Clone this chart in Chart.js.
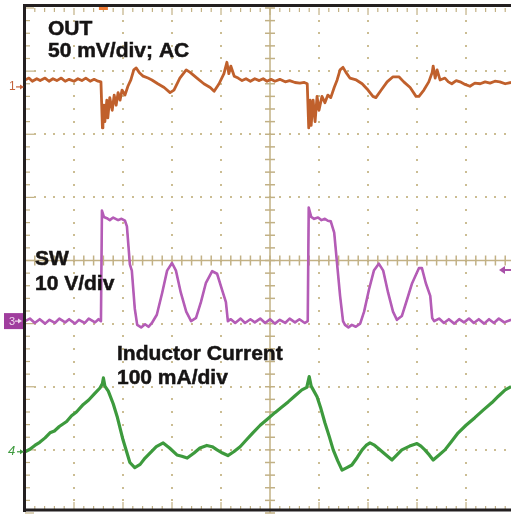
<!DOCTYPE html>
<html><head><meta charset="utf-8">
<script src="https://cdn.jsdelivr.net/npm/chart.js@4.4.0/dist/chart.umd.min.js"></script>
<style>html,body{margin:0;padding:0;background:#fff;overflow:hidden}#wrap{width:511px;height:514px;position:relative}</style>
</head><body><div id="wrap"><canvas id="c" width="511" height="514"></canvas></div>
<script>
// Screen: 10 horizontal divisions x 8 vertical divisions (right edge cut at ~9.92 div)
const X_DIVS = 10;
const Y_HALF_DIVS = 4;
const X_VIEW_MAX = 9.918;

// Channel settings (offset in divisions, scale per division)
const CH1_OFFSET = 2.75, CH1_SCALE = 50;   // OUT, mV/div, AC
const CH3_OFFSET = -0.96, CH3_SCALE = 10;  // SW, V/div
const CH4_OFFSET = -3.03, CH4_SCALE = 100; // Inductor current, mA/div
const TRIG_T = 1.6;       // trigger position (div)
const TRIG_LEVEL_V = 8.1; // trigger level on SW (V)

// [time (div), mV]
const OUT_MV = [[0.00,5.5],[0.08,7],[0.15,4.5],[0.24,6.5],[0.31,5],[0.41,7],[0.49,4.5],[0.57,6.5],[0.65,5],[0.74,7],[0.82,4.5],[0.9,6],[1.0,4.5],[1.08,6.5],[1.16,5],[1.24,7],[1.33,4.5],[1.41,6],[1.49,4.5],[1.55,4],[1.58,-32.5],[1.59,-30.5],[1.61,-14.5],[1.63,-27.5],[1.67,-10.5],[1.69,-24.5],[1.73,-8.5],[1.78,-18.5],[1.82,-6.5],[1.86,-14.5],[1.90,-4.5],[1.94,-10.5],[1.98,-2.5],[2.04,-6.5],[2.10,0.5],[2.16,5.5],[2.22,13.5],[2.27,15],[2.33,11.5],[2.41,8.5],[2.51,7],[2.59,5.5],[2.71,2.5],[2.84,-0.5],[2.96,-4.5],[3.04,-2.5],[3.16,7],[3.29,13.5],[3.37,11.5],[3.51,7],[3.65,2.5],[3.78,-0.5],[3.86,-3.5],[3.96,2.5],[4.06,10.5],[4.12,19.5],[4.16,10.5],[4.20,16.5],[4.27,8.5],[4.35,7],[4.43,5],[4.51,6.5],[4.6,4.5],[4.69,6.5],[4.78,5],[4.86,6.5],[4.94,4.5],[5.02,6],[5.1,4.5],[5.2,6],[5.31,4],[5.4,5],[5.51,3.5],[5.61,3],[5.7,3.5],[5.76,2.5],[5.79,-32.5],[5.82,-10.5],[5.84,-30.5],[5.88,-10.5],[5.92,-27.5],[5.96,-7.5],[6.00,-18.5],[6.06,-7.5],[6.12,-12.5],[6.18,-6.5],[6.24,-8.5],[6.31,-0.5],[6.37,5.5],[6.43,13.5],[6.49,15.5],[6.55,11.5],[6.63,7],[6.76,5.5],[6.88,2.5],[7.00,-2.5],[7.10,-7.5],[7.16,-8.5],[7.27,-2.5],[7.39,4],[7.51,8],[7.63,8],[7.73,4],[7.86,-0.5],[7.98,-7.5],[8.04,-7.5],[8.14,-2.5],[8.24,4],[8.31,11.5],[8.33,16.5],[8.37,7],[8.41,13.5],[8.47,5.5],[8.57,7],[8.64,4],[8.71,2.5],[8.8,5],[8.88,4],[8.98,2],[9.08,0.5],[9.18,3],[9.29,2.5],[9.39,4],[9.49,3],[9.59,4.5],[9.69,4],[9.8,2.5],[9.92,3.5]];

// [time (div), V]
const SW_V = [[0,0],[0.1,0.4],[0.2,-0.3],[0.3,0.3],[0.41,-0.4],[0.5,0.2],[0.61,-0.3],[0.7,0.4],[0.82,-0.2],[0.9,0.3],[1.02,-0.4],[1.1,0.2],[1.22,-0.3],[1.3,0.4],[1.43,-0.2],[1.5,0.3],[1.55,0],[1.57,17.5],[1.61,16.5],[1.67,16.3],[1.73,16.0],[1.8,16.4],[1.9,16.0],[1.97,16.2],[2.04,15.9],[2.08,15],[2.14,9],[2.18,8],[2.24,2],[2.29,-0.6],[2.37,-1],[2.45,-0.5],[2.52,-0.9],[2.59,-0.3],[2.69,1],[2.80,4.5],[2.90,8],[3.00,9.2],[3.08,8],[3.18,4.5],[3.29,1.5],[3.39,0],[3.49,0.5],[3.59,3],[3.69,6],[3.82,7.9],[3.92,7.5],[4.02,5],[4.10,3],[4.14,0],[4.2,0.3],[4.29,-0.3],[4.4,0.4],[4.49,-0.3],[4.6,0.3],[4.69,-0.2],[4.8,0.4],[4.9,-0.3],[5.0,0.3],[5.1,-0.4],[5.2,0.2],[5.31,-0.3],[5.4,0.4],[5.51,-0.2],[5.6,0.3],[5.71,-0.3],[5.77,0],[5.79,18],[5.84,16.5],[5.9,16.2],[5.98,16.4],[6.05,16.0],[6.12,16.2],[6.18,15.9],[6.24,15.8],[6.31,14],[6.37,9],[6.43,4],[6.49,0],[6.53,-0.6],[6.6,-1],[6.67,-0.6],[6.75,-0.9],[6.84,-0.4],[6.92,1.5],[7.02,5],[7.12,8],[7.22,9.1],[7.31,8],[7.41,4.5],[7.51,1.5],[7.59,0.2],[7.69,0.8],[7.80,3.5],[7.90,6],[8.04,8.4],[8.10,8.4],[8.18,6],[8.27,4],[8.31,0.5],[8.35,0],[8.45,0.4],[8.55,-0.3],[8.65,0.3],[8.76,-0.4],[8.86,0.3],[8.96,-0.2],[9.06,0.4],[9.16,-0.3],[9.26,0.3],[9.37,-0.4],[9.47,0.3],[9.57,-0.3],[9.67,0.4],[9.78,-0.2],[9.92,0.2]];

// [time (div), mA]
const IL_MA = [[0,0],[0.1,4],[0.2,10],[0.3,15],[0.41,22],[0.51,30],[0.6,33],[0.7,40],[0.85,48],[0.95,57],[1.05,63],[1.19,75],[1.3,82],[1.42,92],[1.53,101],[1.58,108],[1.6,117],[1.63,104],[1.7,96],[1.8,76],[1.88,56],[2.0,19],[2.14,-17],[2.24,-25],[2.35,-20],[2.45,-10],[2.55,-2],[2.68,8],[2.82,14],[2.95,6],[3.10,-5],[3.2,-7],[3.31,-10],[3.45,-2],[3.57,6],[3.71,10],[3.82,8],[3.92,3],[4.03,-2],[4.14,-6],[4.26,0],[4.39,8],[4.52,19],[4.65,30],[4.8,42],[4.95,52],[5.10,62],[5.23,70],[5.37,79],[5.5,88],[5.65,98],[5.75,102],[5.80,119],[5.84,104],[5.96,87],[6.04,68],[6.12,46],[6.21,24],[6.29,3],[6.38,-14],[6.47,-29],[6.57,-25],[6.67,-21],[6.78,-9],[6.88,3],[6.96,10],[7.04,14],[7.12,11],[7.20,6],[7.35,-4],[7.49,-13],[7.59,-5],[7.69,3],[7.85,9],[8.00,13],[8.08,9],[8.16,3],[8.25,-5],[8.33,-13],[8.45,-5],[8.57,3],[8.7,16],[8.84,30],[9.0,42],[9.18,54],[9.35,66],[9.53,78],[9.66,88],[9.80,98],[9.92,103]];

const LABEL_OUT = ['OUT', '50 mV/div; AC'];
const LABEL_SW = ['SW', '10 V/div'];
const LABEL_IL = ['Inductor Current', '100 mA/div'];

const GRID_COLOR = '#cbbd93';
const AXIS_COLOR = '#c2b185';
const FRAME_COLOR = '#231f20';
const TEXT_COLOR = '#161414';

const toPts = (arr, off, sc) => arr.map(([t, v]) => ({x: t, y: off + v / sc}));

function line(ctx, x1, y1, x2, y2) { ctx.beginPath(); ctx.moveTo(x1, y1); ctx.lineTo(x2, y2); ctx.stroke(); }

const scopePlugin = {
  id: 'scope',
  beforeDatasetsDraw(chart) {
    const {ctx, chartArea: a, scales: {x, y}} = chart;
    ctx.save();
    ctx.fillStyle = GRID_COLOR;
    for (let i = 1; i < X_DIVS; i++) {
      if (i === X_DIVS / 2) continue;
      const px = Math.round(x.getPixelForValue(i));
      for (let j = -Y_HALF_DIVS * 5 + 1; j < Y_HALF_DIVS * 5; j++) {
        const py = Math.round(y.getPixelForValue(j / 5));
        ctx.fillRect(px - 1, py - 1, 2, 2);
      }
    }
    for (let k = -Y_HALF_DIVS + 1; k < Y_HALF_DIVS; k++) {
      if (k === 0) continue;
      const py = Math.round(y.getPixelForValue(k));
      for (let j = 1; j <= X_DIVS * 5; j++) {
        const px = Math.round(x.getPixelForValue(j / 5));
        ctx.fillRect(px - 1, py - 1, 2, 2);
      }
    }
    // centre axes with ticks
    ctx.strokeStyle = AXIS_COLOR;
    ctx.lineWidth = 1.5;
    const cx = x.getPixelForValue(X_DIVS / 2), cy = y.getPixelForValue(0);
    line(ctx, cx, a.top, cx, a.bottom);
    line(ctx, a.left, cy, a.right, cy);
    for (let j = -Y_HALF_DIVS * 5; j <= Y_HALF_DIVS * 5; j++) {
      const py = y.getPixelForValue(j / 5);
      line(ctx, cx - 5, py, cx + 5, py);
    }
    for (let j = 0; j <= X_DIVS * 5; j++) {
      const px = x.getPixelForValue(j / 5);
      line(ctx, px, cy - 5, px, cy + 5);
    }
    // frame ticks
    ctx.lineWidth = 1.2;
    for (let j = 0; j <= X_DIVS * 5; j++) {
      const px = x.getPixelForValue(j / 5);
      const major = j % 5 === 0;
      line(ctx, px, a.top, px, a.top + (major ? 7 : 4));
      line(ctx, px, a.bottom - 3, px, a.bottom - 3 - (major ? 8 : 4));
    }
    for (let j = -Y_HALF_DIVS * 5; j <= Y_HALF_DIVS * 5; j++) {
      const py = y.getPixelForValue(j / 5);
      const major = j % 5 === 0;
      line(ctx, a.left, py, a.left + (major ? 9 : 5), py);
    }
    ctx.restore();
  },
  afterDraw(chart) {
    const {ctx, chartArea: a, scales: {x, y}} = chart;
    ctx.save();
    // frame
    ctx.strokeStyle = FRAME_COLOR;
    ctx.lineWidth = 3;
    line(ctx, a.left - 0.5, a.top - 3, a.left - 0.5, a.bottom - 1);
    line(ctx, a.left - 2, a.top - 2.5, a.right, a.top - 2.5);
    line(ctx, a.left - 2, a.bottom - 3, a.right, a.bottom - 3);

    // text labels
    ctx.fillStyle = TEXT_COLOR;
    ctx.strokeStyle = TEXT_COLOR;
    ctx.lineWidth = 0.5;
    ctx.font = 'bold 21px "Liberation Sans", Arial, sans-serif';
    ctx.textBaseline = 'alphabetic';
    ctx.textAlign = 'left';
    const txt = (s, px, py) => { ctx.fillText(s, px, py); ctx.strokeText(s, px, py); };
    txt(LABEL_OUT[0], a.left + 23, 34.5);
    txt(LABEL_OUT[1], a.left + 23, 57);
    txt(LABEL_SW[0], a.left + 10, 265);
    txt(LABEL_SW[1], a.left + 10, 290);
    txt(LABEL_IL[0], a.left + 92, 360);
    txt(LABEL_IL[1], a.left + 92, 384);

    // channel markers
    const arrow = (x1, x2, yy, col) => {
      ctx.strokeStyle = col; ctx.fillStyle = col; ctx.lineWidth = 1.2;
      line(ctx, x1, yy, x2 - 3, yy);
      ctx.beginPath(); ctx.moveTo(x2, yy); ctx.lineTo(x2 - 4, yy - 2.5); ctx.lineTo(x2 - 4, yy + 2.5); ctx.closePath(); ctx.fill();
    };
    const y1 = y.getPixelForValue(CH1_OFFSET);
    ctx.font = '12px "Liberation Sans", Arial, sans-serif';
    ctx.textBaseline = 'middle';
    ctx.fillStyle = '#c4623a';
    ctx.fillText('1', 9, y1);
    arrow(16, a.left - 1, y1, '#c4623a');

    const y3 = y.getPixelForValue(CH3_OFFSET);
    ctx.fillStyle = '#a03e9e';
    ctx.fillRect(4, y3 - 8, 19, 16);
    ctx.fillStyle = '#f0d8ee';
    ctx.font = '11px "Liberation Sans", Arial, sans-serif';
    ctx.fillText('3', 9, y3 + 0.5);
    arrow(15, 22, y3, '#f0d8ee');

    const y4 = y.getPixelForValue(CH4_OFFSET);
    ctx.fillStyle = '#3f9b3f';
    ctx.font = 'italic 13px "Liberation Sans", Arial, sans-serif';
    ctx.fillText('4', 8, y4);
    arrow(17, a.left - 1, y4, '#3f9b3f');

    // trigger position marker (top)
    const tx = x.getPixelForValue(TRIG_T);
    ctx.fillStyle = '#f07a34';
    ctx.fillRect(tx - 4.5, a.top - 1, 9, 3);

    // trigger level marker (right)
    const ty = y.getPixelForValue(CH3_OFFSET + TRIG_LEVEL_V / CH3_SCALE);
    ctx.strokeStyle = '#a850a8'; ctx.fillStyle = '#a850a8'; ctx.lineWidth = 2;
    line(ctx, a.right - 8, ty, a.right, ty);
    ctx.beginPath(); ctx.moveTo(a.right - 12, ty); ctx.lineTo(a.right - 6, ty - 4); ctx.lineTo(a.right - 6, ty + 4); ctx.closePath(); ctx.fill();
    ctx.restore();
  }
};

const ds = (data, color, width, dash) => ({
  data, borderColor: color, borderWidth: width, borderDash: dash || [],
  pointRadius: 0, tension: 0, fill: false, borderJoinStyle: 'round'
});

const outPts = toPts(OUT_MV, CH1_OFFSET, CH1_SCALE);
const swPts = toPts(SW_V, CH3_OFFSET, CH3_SCALE);
const ilPts = toPts(IL_MA, CH4_OFFSET, CH4_SCALE);

new Chart(document.getElementById('c'), {
  type: 'line',
  data: {
    datasets: [
      ds(ilPts, '#3d9a3d', 3.2),
      ds(ilPts, '#8cd06c', 1, [2, 3]),
      ds(swPts, '#b45cb6', 2.6),
      ds(swPts, '#953594', 1.2),
      ds(outPts, '#c0602c', 2.8),
      ds(outPts, '#ecc82a', 1.2, [2, 4])
    ]
  },
  options: {
    responsive: false,
    devicePixelRatio: 1,
    animation: false,
    events: [],
    layout: {padding: {left: 25, right: 0, top: 8, bottom: 1}},
    plugins: {legend: {display: false}, tooltip: {enabled: false}},
    scales: {
      x: {type: 'linear', min: 0, max: X_VIEW_MAX, display: false},
      y: {type: 'linear', min: -Y_HALF_DIVS, max: Y_HALF_DIVS, display: false}
    }
  },
  plugins: [scopePlugin]
});
</script>
</body></html>
